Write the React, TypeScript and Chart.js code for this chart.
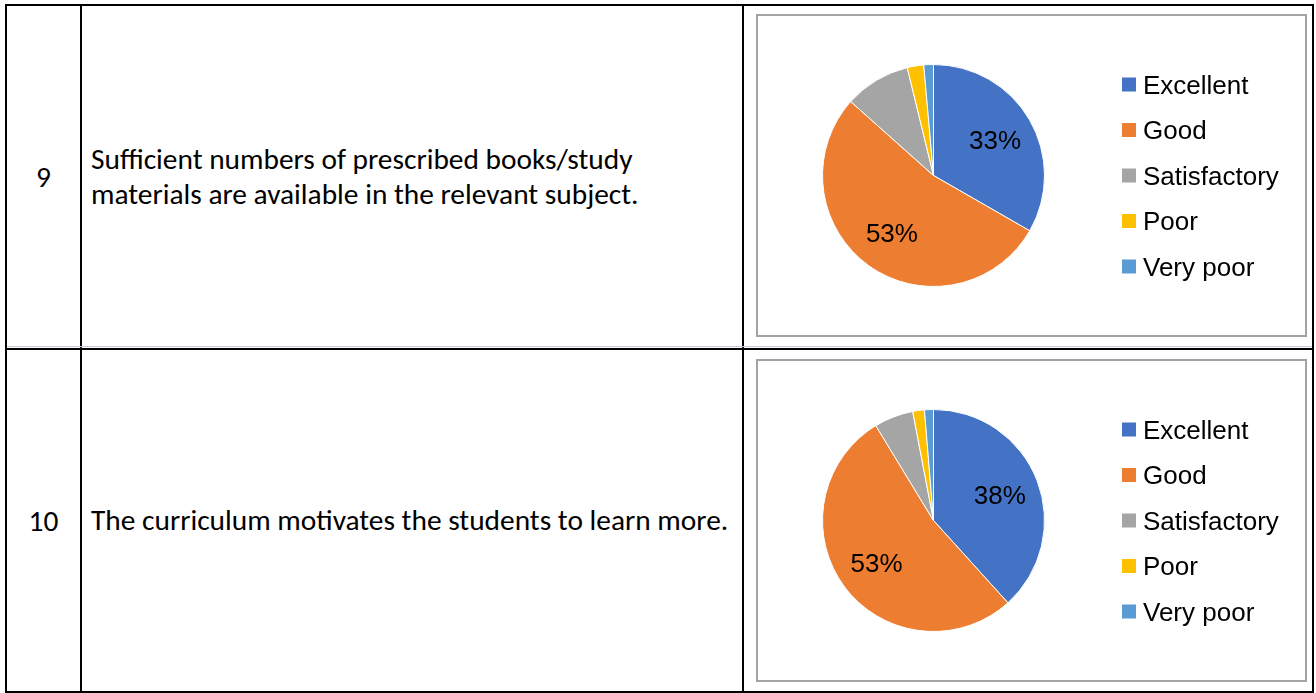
import React, { useEffect, useRef } from "react";
import { Chart, registerables } from "chart.js";

Chart.register(...registerables);

// ---------- data ----------
const categories = ["Excellent", "Good", "Satisfactory", "Poor", "Very poor"];
const q9Values = [33.3, 53.3, 9.6, 2.4, 1.4];
const q10Values = [38.3, 53.0, 5.7, 1.7, 1.3];
const sliceColors = ["#4472C4", "#ED7D31", "#A5A5A5", "#FFC000", "#5B9BD5"];
const rowNumbers = ["9", "10"];
const questions = [
  "Sufficient numbers of prescribed books/study\nmaterials are available in the relevant subject.",
  "The curriculum motivates the students to learn more.",
];
const labelledSlices = [0, 1];

const CHART_FONT = "Arial, 'Liberation Sans', sans-serif";
const TEXT_FONT = "Carlito, Calibri, Lato, sans-serif";

const pieLabelPlugin = {
  id: "pieLabels",
  afterDatasetsDraw(chart: any) {
    const ctx = chart.ctx;
    const meta = chart.getDatasetMeta(0);
    const data = chart.data.datasets[0].data as number[];
    const total = data.reduce((a, b) => a + b, 0);
    ctx.save();
    ctx.font = `26px ${CHART_FONT}`;
    ctx.fillStyle = "#000";
    ctx.textAlign = "center";
    ctx.textBaseline = "middle";
    meta.data.forEach((arc: any, i: number) => {
      if (!labelledSlices.includes(i)) return;
      const p = arc.getProps(["x", "y", "startAngle", "endAngle", "outerRadius"], true);
      const mid = (p.startAngle + p.endAngle) / 2;
      const r = p.outerRadius * 0.64;
      const x = p.x + Math.cos(mid) * r;
      const y = p.y + Math.sin(mid) * r;
      ctx.fillText(Math.round((data[i] / total) * 100) + "%", x, y + 2);
    });
    ctx.restore();
  },
};

const sideLegendPlugin = {
  id: "sideLegend",
  afterDraw(chart: any) {
    const ctx = chart.ctx;
    const labels = chart.data.labels as string[];
    const colors = chart.data.datasets[0].backgroundColor as string[];
    const area = chart.chartArea;
    const cy = (area.top + area.bottom) / 2;
    const spacing = 45.5;
    const boxX = 364;
    const box = 14;
    const textX = 385;
    ctx.save();
    ctx.font = `26px ${CHART_FONT}`;
    ctx.textBaseline = "middle";
    ctx.textAlign = "left";
    labels.forEach((lab, i) => {
      const y = cy + (i - (labels.length - 1) / 2) * spacing;
      ctx.fillStyle = colors[i];
      ctx.fillRect(boxX, y - box / 2, box, box);
      ctx.fillStyle = "#000";
      ctx.fillText(lab, textX, y + 2);
    });
    ctx.restore();
  },
};

function PieChart({ values }: { values: number[] }) {
  const ref = useRef<HTMLCanvasElement | null>(null);
  useEffect(() => {
    if (!ref.current) return;
    const chart = new Chart(ref.current, {
      type: "pie",
      data: {
        labels: categories,
        datasets: [
          {
            data: values,
            backgroundColor: sliceColors,
            borderColor: "#ffffff",
            borderWidth: 1,
          },
        ],
      },
      options: {
        animation: false,
        responsive: false,
        devicePixelRatio: 1,
        layout: { padding: { left: 64, right: 260, top: 48, bottom: 48 } },
        plugins: {
          legend: { display: false },
          tooltip: { enabled: false },
        },
      },
      plugins: [pieLabelPlugin, sideLegendPlugin],
    });
    return () => chart.destroy();
  }, [values]);
  return <canvas ref={ref} width={547} height={319} style={{ display: "block", width: 547, height: 319 }} />;
}

const black = "#000";

function Line({ x, y, w, h, c = black }: { x: number; y: number; w: number; h: number; c?: string }) {
  return <div style={{ position: "absolute", left: x, top: y, width: w, height: h, background: c }} />;
}

export default function App() {
  const rows = [
    { top: 6, bottom: 348, values: q9Values },
    { top: 350, bottom: 691, values: q10Values },
  ];
  const frameTops = [14, 359];
  return (
    <div style={{ position: "absolute", left: 0, top: 0, width: 1316, height: 693, background: "#fff", overflow: "hidden" }}>
      {rows.map((r, i) => (
        <React.Fragment key={i}>
          <div
            style={{
              position: "absolute",
              left: 7,
              top: r.top,
              width: 73,
              height: r.bottom - r.top,
              display: "flex",
              alignItems: "center",
              justifyContent: "center",
              fontFamily: TEXT_FONT,
              fontSize: 29.4,
              color: "#000",
            }}
          >
            {rowNumbers[i]}
          </div>
          <div
            style={{
              position: "absolute",
              left: 91,
              top: r.top,
              width: 650,
              height: r.bottom - r.top,
              display: "flex",
              alignItems: "center",
              fontFamily: TEXT_FONT,
              fontSize: 29.4,
              lineHeight: "35px",
              color: "#000",
              whiteSpace: "pre",
            }}
          >
            {questions[i]}
          </div>
          <div
            style={{
              position: "absolute",
              left: 756,
              top: frameTops[i],
              width: 551,
              height: 323,
              border: "2px solid #a3a3a3",
              boxSizing: "border-box",
              background: "#fff",
            }}
          >
            <PieChart values={r.values} />
          </div>
        </React.Fragment>
      ))}
      <Line x={5} y={4} w={1309} h={2} />
      <Line x={5} y={4} w={2} h={689} />
      <Line x={80} y={4} w={2} h={689} />
      <Line x={742} y={4} w={2} h={689} />
      <Line x={1312} y={4} w={2} h={689} />
      <Line x={7} y={346} w={1305} h={1} c="#c9cbdc" />
      <Line x={5} y={348} w={1309} h={2} />
      <Line x={5} y={691} w={1309} h={2} />
    </div>
  );
}
